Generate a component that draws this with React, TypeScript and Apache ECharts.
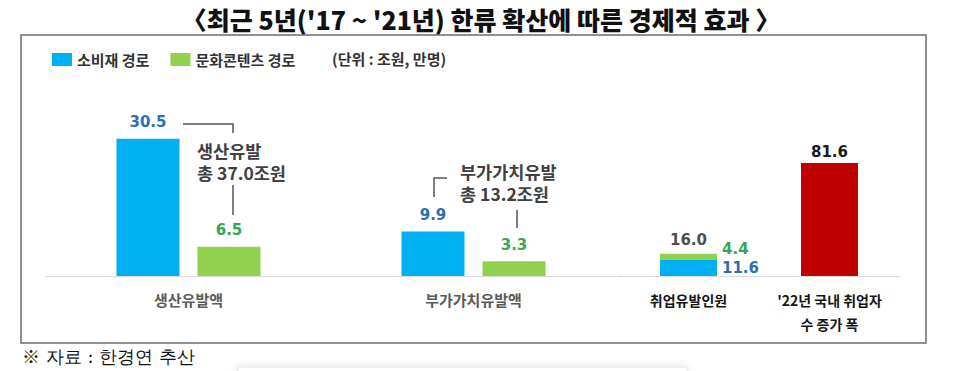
import React, { useEffect, useRef } from "react";
import * as echarts from "echarts";

// ---- data ----
const moneyCategories = ["생산유발액", "부가가치유발액"];
const consumerMoney = [30.5, 9.9]; // 소비재 경로 (조원)
const contentMoney = [6.5, 3.3]; // 문화콘텐츠 경로 (조원)

const jobCategories = ["취업유발인원", "'22년 국내 취업자\n수 증가 폭"];
const consumerJobs: (number | null)[] = [11.6, null]; // 만명
const contentJobs: (number | null)[] = [4.4, null];
const totalJobs: (number | null)[] = [16.0, null];
const employmentIncrease: (number | null)[] = [null, 81.6];

const seriesNames = ["소비재 경로", "문화콘텐츠 경로"];

const BLUE = "#00b0f0";
const GREEN = "#92d050";
const RED = "#c00000";
const BLUE_TXT = "#2e6fb0";
const GREEN_TXT = "#35a654";
const CJK = "'Noto Sans CJK KR', 'Noto Sans', sans-serif";
const NUM = "'DejaVu Sans', 'Noto Sans', sans-serif";

const fmt = (p: any) => (p.value == null ? "" : Number(p.value).toFixed(1));

export default function App() {
  const ref = useRef<HTMLDivElement>(null);

  useEffect(() => {
    if (!ref.current) return;
    const chart = echarts.init(ref.current, undefined, { renderer: "svg" });

    const numLabel = (color: string, extra: any = {}) => ({
      show: true,
      position: "top",
      distance: 9,
      color,
      fontFamily: NUM,
      fontWeight: "bold",
      fontSize: 15,
      formatter: fmt,
      ...extra,
    });

    const annText = (x: number, y: number, text: string) => ({
      type: "text",
      x,
      y,
      style: {
        text,
        fontSize: 17.5,
        fontWeight: "bold",
        fontFamily: CJK,
        fill: "#404040",
        verticalAlign: "middle",
      },
    });

    const option: any = {
      animation: false,
      backgroundColor: "#ffffff",
      textStyle: { fontFamily: CJK },
      legend: {
        data: seriesNames,
        left: 52,
        top: 52,
        padding: 0,
        itemWidth: 20,
        itemHeight: 13,
        itemGap: 21,
        icon: "rect",
        textStyle: { fontSize: 15, fontWeight: "bold", color: "#333", fontFamily: CJK },
      },
      grid: [
        { left: 46, width: 570, top: 96, height: 180 },
        { left: 618, width: 282, top: 96, height: 180 },
      ],
      xAxis: [
        {
          type: "category",
          gridIndex: 0,
          data: moneyCategories,
          axisLine: { lineStyle: { color: "#d9d9d9", width: 1 } },
          axisTick: { show: false },
          axisLabel: {
            margin: 12,
            fontSize: 15,
            lineHeight: 23,
            fontWeight: "bold",
            color: "#5a5a5a",
            fontFamily: CJK,
          },
        },
        {
          type: "category",
          gridIndex: 1,
          data: jobCategories,
          axisLine: { lineStyle: { color: "#d9d9d9", width: 1 } },
          axisTick: { show: false },
          axisLabel: {
            margin: 12,
            fontSize: 14,
            lineHeight: 24,
            fontWeight: "bold",
            color: "#161616",
            fontFamily: CJK,
          },
        },
      ],
      yAxis: [
        { type: "value", gridIndex: 0, min: 0, max: 40, show: false, splitLine: { show: false } },
        { type: "value", gridIndex: 1, min: 0, max: 130, show: false, splitLine: { show: false } },
      ],
      series: [
        {
          name: seriesNames[0],
          type: "bar",
          xAxisIndex: 0,
          yAxisIndex: 0,
          data: consumerMoney,
          barWidth: 63,
          barGap: "28.6%",
          itemStyle: { color: BLUE },
          label: numLabel(BLUE_TXT),
        },
        {
          name: seriesNames[1],
          type: "bar",
          xAxisIndex: 0,
          yAxisIndex: 0,
          data: contentMoney,
          barWidth: 63,
          barGap: "28.6%",
          itemStyle: { color: GREEN },
          label: numLabel(GREEN_TXT),
        },
        {
          name: seriesNames[0],
          type: "bar",
          xAxisIndex: 1,
          yAxisIndex: 1,
          stack: "jobs",
          data: consumerJobs,
          barWidth: 57,
          itemStyle: { color: BLUE },
          label: numLabel(BLUE_TXT, { position: "right", distance: 5 }),
        },
        {
          name: seriesNames[1],
          type: "bar",
          xAxisIndex: 1,
          yAxisIndex: 1,
          stack: "jobs",
          data: contentJobs,
          barWidth: 57,
          itemStyle: { color: GREEN },
          label: numLabel(GREEN_TXT, { position: "right", distance: 5, offset: [0, -8] }),
        },
        {
          name: "'22년 국내 취업자 수 증가 폭",
          type: "bar",
          xAxisIndex: 1,
          yAxisIndex: 1,
          stack: "jobs",
          data: employmentIncrease,
          barWidth: 57,
          itemStyle: { color: RED },
          label: numLabel("#1a1a1a", { distance: 4 }),
        },
        {
          name: "취업유발 합계",
          type: "scatter",
          xAxisIndex: 1,
          yAxisIndex: 1,
          data: totalJobs,
          symbolSize: 0,
          itemStyle: { color: "transparent" },
          label: numLabel("#1a1a1a", { distance: 6 }),
          silent: true,
        },
      ],
      graphic: [
        {
          type: "text",
          x: 481,
          y: 19,
          style: {
            text: "〈최근 5년('17 ~ '21년) 한류 확산에 따른 경제적 효과 〉",
            fontSize: 25,
            fontWeight: 900,
            fontFamily: CJK,
            fill: "#111",
            align: "center",
            verticalAlign: "middle",
          },
        },
        {
          type: "rect",
          shape: { x: 21, y: 35, width: 905, height: 308 },
          style: { fill: "none", stroke: "#6b6b6b", lineWidth: 1.5 },
          silent: true,
        },
        {
          type: "text",
          x: 332,
          y: 58,
          style: {
            text: "(단위 : 조원, 만명)",
            fontSize: 15,
            fontWeight: "bold",
            fontFamily: CJK,
            fill: "#333",
            verticalAlign: "middle",
          },
        },
        // annotation: 생산유발
        {
          type: "polyline",
          shape: { points: [[183, 124], [233, 124], [233, 133]] },
          style: { stroke: "#555", lineWidth: 1.5, fill: "none" },
        },
        {
          type: "line",
          shape: { x1: 233, y1: 185, x2: 233, y2: 215 },
          style: { stroke: "#555", lineWidth: 1.5 },
        },
        annText(197, 150, "생산유발"),
        annText(197, 172, "총 37.0조원"),
        // annotation: 부가가치유발
        {
          type: "polyline",
          shape: { points: [[447, 178], [434, 178], [434, 197]] },
          style: { stroke: "#555", lineWidth: 1.5, fill: "none" },
        },
        {
          type: "line",
          shape: { x1: 517, y1: 210, x2: 517, y2: 228 },
          style: { stroke: "#555", lineWidth: 1.5 },
        },
        annText(460, 171, "부가가치유발"),
        annText(460, 193, "총 13.2조원"),
        // source note
        {
          type: "text",
          x: 22,
          y: 356,
          style: {
            text: "※ 자료 : 한경연 추산",
            fontSize: 18,
            fontFamily: "'DejaVu Serif', serif",
            fill: "#111",
            verticalAlign: "middle",
          },
        },
        {
          type: "rect",
          shape: { x: 238, y: 367, width: 449, height: 20 },
          style: {
            fill: "#fff",
            stroke: "#e4e4e4",
            lineWidth: 1,
            shadowBlur: 8,
            shadowColor: "rgba(0,0,0,0.12)",
          },
          silent: true,
        },
      ],
    };

    chart.setOption(option);
    return () => chart.dispose();
  }, []);

  return (
    <div
      ref={ref}
      style={{ position: "absolute", left: 0, top: 0, width: 960, height: 371, background: "#fff" }}
    />
  );
}
